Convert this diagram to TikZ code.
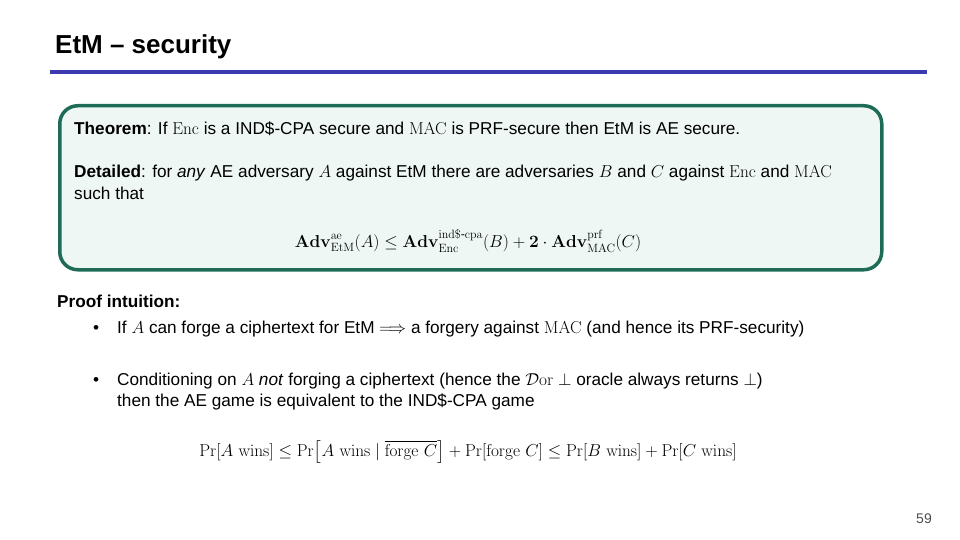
\documentclass[tikz,border=0pt]{standalone}
\usepackage{amsmath,amssymb}
\usepackage[no-math]{fontspec}
\setmainfont{Liberation Sans}
\begin{document}
\begin{tikzpicture}[x=1pt,y=-1pt,
  txt/.style={anchor=base west,inner sep=0pt,font=\fontsize{17.2}{20}\selectfont},
  eq/.style={anchor=base,inner sep=0pt,font=\fontsize{17.6}{20}\selectfont}]
\useasboundingbox (0,0) rectangle (960,540);
\definecolor{teal1}{HTML}{1E6B58}
\definecolor{mint}{HTML}{EEF7F3}
\definecolor{blu}{HTML}{3B3BAF}
\node[anchor=base west,inner sep=0pt,font=\fontsize{26}{28}\selectfont\bfseries] (title) at (55,54) {EtM -- security};
\draw[blu,line width=4] (50,72) -- (927,72);
\node[draw=teal1,line width=3.5,fill=mint,rounded corners=18,minimum width=822,minimum height=164,anchor=north west,inner sep=0pt] (box) at (58,104) {};
\node[txt] (thm) at (74,135) {\textbf{Theorem}: If $\mathrm{Enc}$ is a IND\$-CPA secure and $\mathrm{MAC}$ is PRF-secure then EtM is AE secure.};
\node[txt] (det) at (74,178) {\textbf{Detailed}: for \textit{any} AE adversary $A$ against EtM there are adversaries $B$ and $C$ against $\mathrm{Enc}$ and $\mathrm{MAC}$};
\node[txt] (such) at (74,199) {such that};
\node[eq] (f1) at (468,247) {$\mathbf{Adv}^{\mathrm{ae}}_{\mathrm{EtM}}(A)\le\mathbf{Adv}^{\mathrm{ind\$\text{-}cpa}}_{\mathrm{Enc}}(B)+\mathbf{2}\cdot\mathbf{Adv}^{\mathrm{prf}}_{\mathrm{MAC}}(C)$};
\node[txt] (pi) at (57,307) {\textbf{Proof intuition:}};
\node[txt] (b1) at (93,333) {\textbullet};
\node[txt] (t1) at (117,333) {If $A$ can forge a ciphertext for EtM ${\Longrightarrow}$ a forgery against $\mathrm{MAC}$ (and hence its PRF-security)};
\node[txt] (b2) at (93,385) {\textbullet};
\node[txt] (t2) at (117,385) {Conditioning on $A$ \textit{not} forging a ciphertext (hence the $\mathcal{D}\mathrm{or}\perp$ oracle always returns $\perp$)};
\node[txt] (t3) at (117,406) {then the AE game is equivalent to the IND\$-CPA game};
\node[eq,font=\fontsize{18.8}{22}\selectfont] (f2) at (468,456) {$\Pr[A\ \mathrm{wins}]\le\Pr\bigl[A\ \mathrm{wins}\mid\overline{\mathrm{forge}\ C}\bigr]+\Pr[\mathrm{forge}\ C]\le\Pr[B\ \mathrm{wins}]+\Pr[C\ \mathrm{wins}]$};
\node[anchor=base east,inner sep=0pt,font=\fontsize{14}{16}\selectfont,text=black!70] (pg) at (932,523) {59};
\end{tikzpicture}
\end{document}
